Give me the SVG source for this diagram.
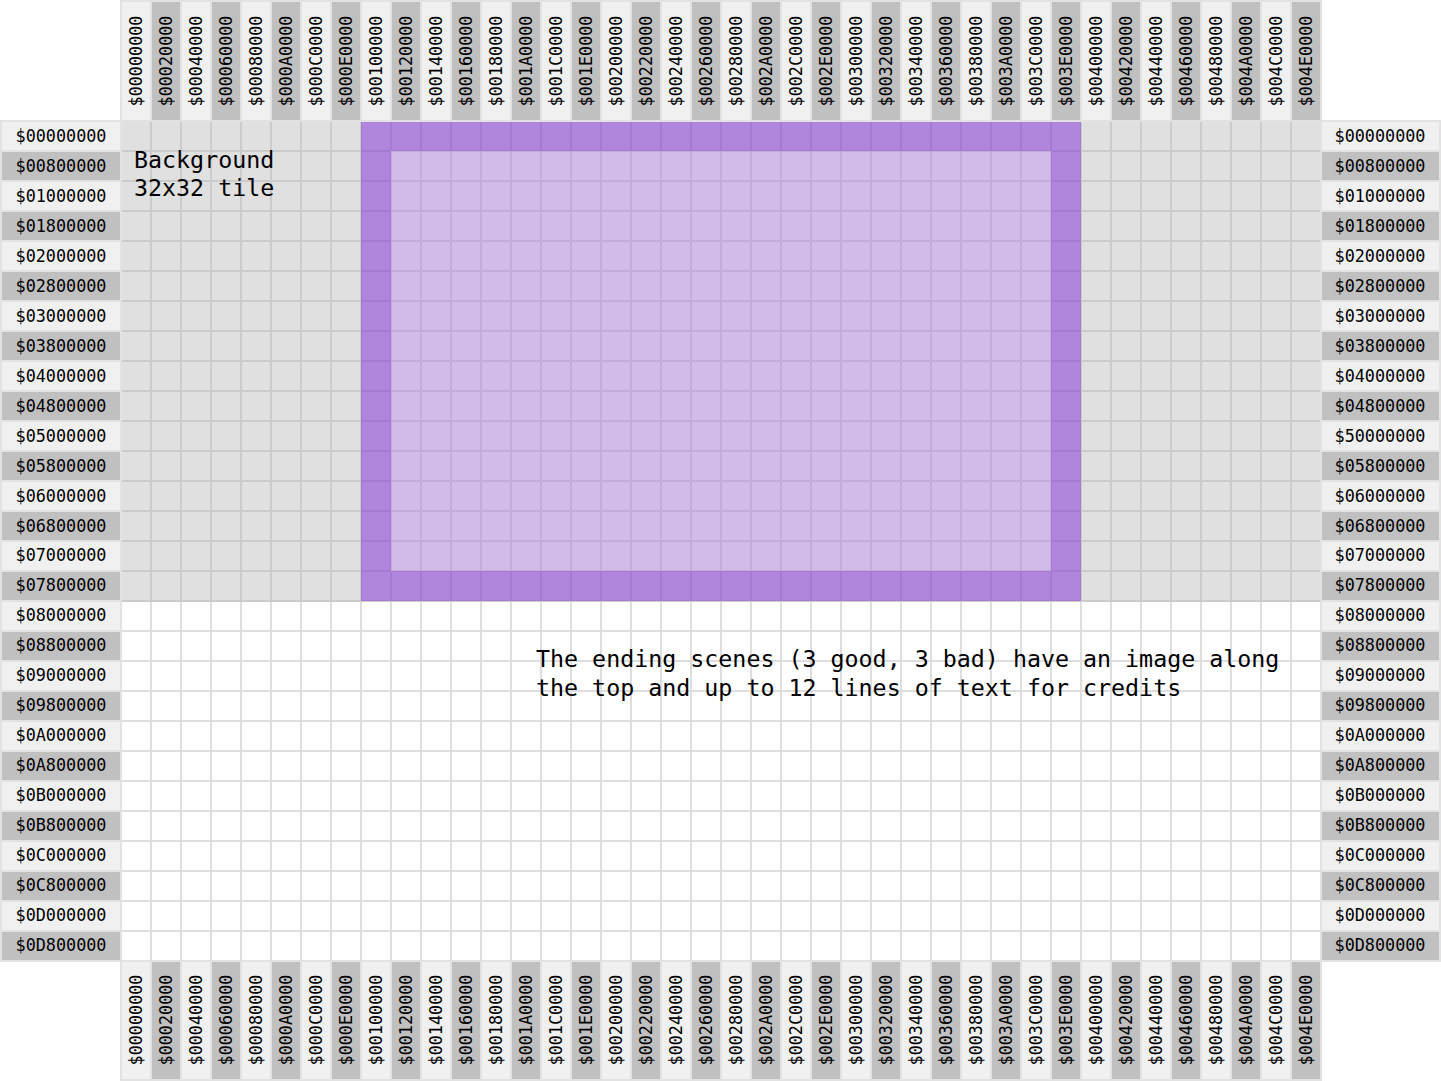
<svg xmlns="http://www.w3.org/2000/svg" width="1441" height="1081" viewBox="0 0 1441 1081">
<style>
.lbl{font-family:"DejaVu Sans Mono","Liberation Mono",monospace;font-size:16.8px;fill:#000}
.mid{text-anchor:middle}
.big{font-family:"DejaVu Sans Mono","Liberation Mono",monospace;font-size:23.3px;fill:#000}
.hl{fill:#f0f0f0;stroke:#e2e2e2;stroke-width:2}
.hd{fill:#c0c0c0;stroke:#e2e2e2;stroke-width:2}
</style>
<rect width="1441" height="1081" fill="#fff"/>
<g id="grid">
<rect x="121" y="121" width="1200" height="480" fill="#e0e0e0"/>
<rect x="121" y="601" width="1200" height="360" fill="#fff"/>
<path d="M121 601V961M151 601V961M181 601V961M211 601V961M241 601V961M271 601V961M301 601V961M331 601V961M361 601V961M391 601V961M421 601V961M451 601V961M481 601V961M511 601V961M541 601V961M571 601V961M601 601V961M631 601V961M661 601V961M691 601V961M721 601V961M751 601V961M781 601V961M811 601V961M841 601V961M871 601V961M901 601V961M931 601V961M961 601V961M991 601V961M1021 601V961M1051 601V961M1081 601V961M1111 601V961M1141 601V961M1171 601V961M1201 601V961M1231 601V961M1261 601V961M1291 601V961M1321 601V961M121 631H1321M121 661H1321M121 691H1321M121 721H1321M121 751H1321M121 781H1321M121 811H1321M121 841H1321M121 871H1321M121 901H1321M121 931H1321M121 961H1321" stroke="#dedede" stroke-width="2" fill="none"/>
<path d="M121 121V601M151 121V601M181 121V601M211 121V601M241 121V601M271 121V601M301 121V601M331 121V601M361 121V601M391 121V601M421 121V601M451 121V601M481 121V601M511 121V601M541 121V601M571 121V601M601 121V601M631 121V601M661 121V601M691 121V601M721 121V601M751 121V601M781 121V601M811 121V601M841 121V601M871 121V601M901 121V601M931 121V601M961 121V601M991 121V601M1021 121V601M1051 121V601M1081 121V601M1111 121V601M1141 121V601M1171 121V601M1201 121V601M1231 121V601M1261 121V601M1291 121V601M1321 121V601M121 121H1321M121 151H1321M121 181H1321M121 211H1321M121 241H1321M121 271H1321M121 301H1321M121 331H1321M121 361H1321M121 391H1321M121 421H1321M121 451H1321M121 481H1321M121 511H1321M121 541H1321M121 571H1321M121 601H1321" stroke="#cbcbcb" stroke-width="2" fill="none"/>
</g>
<g id="screen">
<path d="M361 121H1081V601H361ZM391 151V571H1051V151Z" fill="rgb(128,42,216)" fill-opacity="0.5" fill-rule="evenodd"/>
<rect x="391" y="151" width="660" height="420" fill="rgb(181,104,255)" fill-opacity="0.3"/>
</g>
<g id="notes">
<text class="big" x="134" y="168">Background</text>
<text class="big" x="134" y="196">32x32 tile</text>
<text class="big" x="536" y="667">The ending scenes (3 good, 3 bad) have an image along</text>
<text class="big" x="536" y="696">the top and up to 12 lines of text for credits</text>
</g>
<g id="top-header">
<rect class="hl" x="121" y="1" width="30" height="120"/><rect class="hd" x="151" y="1" width="30" height="120"/><rect class="hl" x="181" y="1" width="30" height="120"/><rect class="hd" x="211" y="1" width="30" height="120"/><rect class="hl" x="241" y="1" width="30" height="120"/><rect class="hd" x="271" y="1" width="30" height="120"/><rect class="hl" x="301" y="1" width="30" height="120"/><rect class="hd" x="331" y="1" width="30" height="120"/><rect class="hl" x="361" y="1" width="30" height="120"/><rect class="hd" x="391" y="1" width="30" height="120"/><rect class="hl" x="421" y="1" width="30" height="120"/><rect class="hd" x="451" y="1" width="30" height="120"/><rect class="hl" x="481" y="1" width="30" height="120"/><rect class="hd" x="511" y="1" width="30" height="120"/><rect class="hl" x="541" y="1" width="30" height="120"/><rect class="hd" x="571" y="1" width="30" height="120"/><rect class="hl" x="601" y="1" width="30" height="120"/><rect class="hd" x="631" y="1" width="30" height="120"/><rect class="hl" x="661" y="1" width="30" height="120"/><rect class="hd" x="691" y="1" width="30" height="120"/><rect class="hl" x="721" y="1" width="30" height="120"/><rect class="hd" x="751" y="1" width="30" height="120"/><rect class="hl" x="781" y="1" width="30" height="120"/><rect class="hd" x="811" y="1" width="30" height="120"/><rect class="hl" x="841" y="1" width="30" height="120"/><rect class="hd" x="871" y="1" width="30" height="120"/><rect class="hl" x="901" y="1" width="30" height="120"/><rect class="hd" x="931" y="1" width="30" height="120"/><rect class="hl" x="961" y="1" width="30" height="120"/><rect class="hd" x="991" y="1" width="30" height="120"/><rect class="hl" x="1021" y="1" width="30" height="120"/><rect class="hd" x="1051" y="1" width="30" height="120"/><rect class="hl" x="1081" y="1" width="30" height="120"/><rect class="hd" x="1111" y="1" width="30" height="120"/><rect class="hl" x="1141" y="1" width="30" height="120"/><rect class="hd" x="1171" y="1" width="30" height="120"/><rect class="hl" x="1201" y="1" width="30" height="120"/><rect class="hd" x="1231" y="1" width="30" height="120"/><rect class="hl" x="1261" y="1" width="30" height="120"/><rect class="hd" x="1291" y="1" width="30" height="120"/>
<g class="lbl mid">
<text transform="translate(142,61) rotate(-90)">$00000000</text>
<text transform="translate(172,61) rotate(-90)">$00020000</text>
<text transform="translate(202,61) rotate(-90)">$00040000</text>
<text transform="translate(232,61) rotate(-90)">$00060000</text>
<text transform="translate(262,61) rotate(-90)">$00080000</text>
<text transform="translate(292,61) rotate(-90)">$000A0000</text>
<text transform="translate(322,61) rotate(-90)">$000C0000</text>
<text transform="translate(352,61) rotate(-90)">$000E0000</text>
<text transform="translate(382,61) rotate(-90)">$00100000</text>
<text transform="translate(412,61) rotate(-90)">$00120000</text>
<text transform="translate(442,61) rotate(-90)">$00140000</text>
<text transform="translate(472,61) rotate(-90)">$00160000</text>
<text transform="translate(502,61) rotate(-90)">$00180000</text>
<text transform="translate(532,61) rotate(-90)">$001A0000</text>
<text transform="translate(562,61) rotate(-90)">$001C0000</text>
<text transform="translate(592,61) rotate(-90)">$001E0000</text>
<text transform="translate(622,61) rotate(-90)">$00200000</text>
<text transform="translate(652,61) rotate(-90)">$00220000</text>
<text transform="translate(682,61) rotate(-90)">$00240000</text>
<text transform="translate(712,61) rotate(-90)">$00260000</text>
<text transform="translate(742,61) rotate(-90)">$00280000</text>
<text transform="translate(772,61) rotate(-90)">$002A0000</text>
<text transform="translate(802,61) rotate(-90)">$002C0000</text>
<text transform="translate(832,61) rotate(-90)">$002E0000</text>
<text transform="translate(862,61) rotate(-90)">$00300000</text>
<text transform="translate(892,61) rotate(-90)">$00320000</text>
<text transform="translate(922,61) rotate(-90)">$00340000</text>
<text transform="translate(952,61) rotate(-90)">$00360000</text>
<text transform="translate(982,61) rotate(-90)">$00380000</text>
<text transform="translate(1012,61) rotate(-90)">$003A0000</text>
<text transform="translate(1042,61) rotate(-90)">$003C0000</text>
<text transform="translate(1072,61) rotate(-90)">$003E0000</text>
<text transform="translate(1102,61) rotate(-90)">$00400000</text>
<text transform="translate(1132,61) rotate(-90)">$00420000</text>
<text transform="translate(1162,61) rotate(-90)">$00440000</text>
<text transform="translate(1192,61) rotate(-90)">$00460000</text>
<text transform="translate(1222,61) rotate(-90)">$00480000</text>
<text transform="translate(1252,61) rotate(-90)">$004A0000</text>
<text transform="translate(1282,61) rotate(-90)">$004C0000</text>
<text transform="translate(1312,61) rotate(-90)">$004E0000</text>
</g>
</g>
<g id="bottom-header">
<rect class="hl" x="121" y="961" width="30" height="119"/><rect class="hd" x="151" y="961" width="30" height="119"/><rect class="hl" x="181" y="961" width="30" height="119"/><rect class="hd" x="211" y="961" width="30" height="119"/><rect class="hl" x="241" y="961" width="30" height="119"/><rect class="hd" x="271" y="961" width="30" height="119"/><rect class="hl" x="301" y="961" width="30" height="119"/><rect class="hd" x="331" y="961" width="30" height="119"/><rect class="hl" x="361" y="961" width="30" height="119"/><rect class="hd" x="391" y="961" width="30" height="119"/><rect class="hl" x="421" y="961" width="30" height="119"/><rect class="hd" x="451" y="961" width="30" height="119"/><rect class="hl" x="481" y="961" width="30" height="119"/><rect class="hd" x="511" y="961" width="30" height="119"/><rect class="hl" x="541" y="961" width="30" height="119"/><rect class="hd" x="571" y="961" width="30" height="119"/><rect class="hl" x="601" y="961" width="30" height="119"/><rect class="hd" x="631" y="961" width="30" height="119"/><rect class="hl" x="661" y="961" width="30" height="119"/><rect class="hd" x="691" y="961" width="30" height="119"/><rect class="hl" x="721" y="961" width="30" height="119"/><rect class="hd" x="751" y="961" width="30" height="119"/><rect class="hl" x="781" y="961" width="30" height="119"/><rect class="hd" x="811" y="961" width="30" height="119"/><rect class="hl" x="841" y="961" width="30" height="119"/><rect class="hd" x="871" y="961" width="30" height="119"/><rect class="hl" x="901" y="961" width="30" height="119"/><rect class="hd" x="931" y="961" width="30" height="119"/><rect class="hl" x="961" y="961" width="30" height="119"/><rect class="hd" x="991" y="961" width="30" height="119"/><rect class="hl" x="1021" y="961" width="30" height="119"/><rect class="hd" x="1051" y="961" width="30" height="119"/><rect class="hl" x="1081" y="961" width="30" height="119"/><rect class="hd" x="1111" y="961" width="30" height="119"/><rect class="hl" x="1141" y="961" width="30" height="119"/><rect class="hd" x="1171" y="961" width="30" height="119"/><rect class="hl" x="1201" y="961" width="30" height="119"/><rect class="hd" x="1231" y="961" width="30" height="119"/><rect class="hl" x="1261" y="961" width="30" height="119"/><rect class="hd" x="1291" y="961" width="30" height="119"/>
<g class="lbl mid">
<text transform="translate(142,1020) rotate(-90)">$00000000</text>
<text transform="translate(172,1020) rotate(-90)">$00020000</text>
<text transform="translate(202,1020) rotate(-90)">$00040000</text>
<text transform="translate(232,1020) rotate(-90)">$00060000</text>
<text transform="translate(262,1020) rotate(-90)">$00080000</text>
<text transform="translate(292,1020) rotate(-90)">$000A0000</text>
<text transform="translate(322,1020) rotate(-90)">$000C0000</text>
<text transform="translate(352,1020) rotate(-90)">$000E0000</text>
<text transform="translate(382,1020) rotate(-90)">$00100000</text>
<text transform="translate(412,1020) rotate(-90)">$00120000</text>
<text transform="translate(442,1020) rotate(-90)">$00140000</text>
<text transform="translate(472,1020) rotate(-90)">$00160000</text>
<text transform="translate(502,1020) rotate(-90)">$00180000</text>
<text transform="translate(532,1020) rotate(-90)">$001A0000</text>
<text transform="translate(562,1020) rotate(-90)">$001C0000</text>
<text transform="translate(592,1020) rotate(-90)">$001E0000</text>
<text transform="translate(622,1020) rotate(-90)">$00200000</text>
<text transform="translate(652,1020) rotate(-90)">$00220000</text>
<text transform="translate(682,1020) rotate(-90)">$00240000</text>
<text transform="translate(712,1020) rotate(-90)">$00260000</text>
<text transform="translate(742,1020) rotate(-90)">$00280000</text>
<text transform="translate(772,1020) rotate(-90)">$002A0000</text>
<text transform="translate(802,1020) rotate(-90)">$002C0000</text>
<text transform="translate(832,1020) rotate(-90)">$002E0000</text>
<text transform="translate(862,1020) rotate(-90)">$00300000</text>
<text transform="translate(892,1020) rotate(-90)">$00320000</text>
<text transform="translate(922,1020) rotate(-90)">$00340000</text>
<text transform="translate(952,1020) rotate(-90)">$00360000</text>
<text transform="translate(982,1020) rotate(-90)">$00380000</text>
<text transform="translate(1012,1020) rotate(-90)">$003A0000</text>
<text transform="translate(1042,1020) rotate(-90)">$003C0000</text>
<text transform="translate(1072,1020) rotate(-90)">$003E0000</text>
<text transform="translate(1102,1020) rotate(-90)">$00400000</text>
<text transform="translate(1132,1020) rotate(-90)">$00420000</text>
<text transform="translate(1162,1020) rotate(-90)">$00440000</text>
<text transform="translate(1192,1020) rotate(-90)">$00460000</text>
<text transform="translate(1222,1020) rotate(-90)">$00480000</text>
<text transform="translate(1252,1020) rotate(-90)">$004A0000</text>
<text transform="translate(1282,1020) rotate(-90)">$004C0000</text>
<text transform="translate(1312,1020) rotate(-90)">$004E0000</text>
</g>
</g>
<g id="left-header">
<rect class="hl" x="1" y="121" width="120" height="30"/><rect class="hd" x="1" y="151" width="120" height="30"/><rect class="hl" x="1" y="181" width="120" height="30"/><rect class="hd" x="1" y="211" width="120" height="30"/><rect class="hl" x="1" y="241" width="120" height="30"/><rect class="hd" x="1" y="271" width="120" height="30"/><rect class="hl" x="1" y="301" width="120" height="30"/><rect class="hd" x="1" y="331" width="120" height="30"/><rect class="hl" x="1" y="361" width="120" height="30"/><rect class="hd" x="1" y="391" width="120" height="30"/><rect class="hl" x="1" y="421" width="120" height="30"/><rect class="hd" x="1" y="451" width="120" height="30"/><rect class="hl" x="1" y="481" width="120" height="30"/><rect class="hd" x="1" y="511" width="120" height="30"/><rect class="hl" x="1" y="541" width="120" height="30"/><rect class="hd" x="1" y="571" width="120" height="30"/><rect class="hl" x="1" y="601" width="120" height="30"/><rect class="hd" x="1" y="631" width="120" height="30"/><rect class="hl" x="1" y="661" width="120" height="30"/><rect class="hd" x="1" y="691" width="120" height="30"/><rect class="hl" x="1" y="721" width="120" height="30"/><rect class="hd" x="1" y="751" width="120" height="30"/><rect class="hl" x="1" y="781" width="120" height="30"/><rect class="hd" x="1" y="811" width="120" height="30"/><rect class="hl" x="1" y="841" width="120" height="30"/><rect class="hd" x="1" y="871" width="120" height="30"/><rect class="hl" x="1" y="901" width="120" height="30"/><rect class="hd" x="1" y="931" width="120" height="30"/>
<g class="lbl mid">
<text x="61" y="142">$00000000</text>
<text x="61" y="172">$00800000</text>
<text x="61" y="202">$01000000</text>
<text x="61" y="232">$01800000</text>
<text x="61" y="262">$02000000</text>
<text x="61" y="292">$02800000</text>
<text x="61" y="322">$03000000</text>
<text x="61" y="352">$03800000</text>
<text x="61" y="382">$04000000</text>
<text x="61" y="412">$04800000</text>
<text x="61" y="442">$05000000</text>
<text x="61" y="472">$05800000</text>
<text x="61" y="502">$06000000</text>
<text x="61" y="532">$06800000</text>
<text x="61" y="561">$07000000</text>
<text x="61" y="591">$07800000</text>
<text x="61" y="621">$08000000</text>
<text x="61" y="651">$08800000</text>
<text x="61" y="681">$09000000</text>
<text x="61" y="711">$09800000</text>
<text x="61" y="741">$0A000000</text>
<text x="61" y="771">$0A800000</text>
<text x="61" y="801">$0B000000</text>
<text x="61" y="831">$0B800000</text>
<text x="61" y="861">$0C000000</text>
<text x="61" y="891">$0C800000</text>
<text x="61" y="921">$0D000000</text>
<text x="61" y="951">$0D800000</text>
</g>
</g>
<g id="right-header">
<rect class="hl" x="1321" y="121" width="119" height="30"/><rect class="hd" x="1321" y="151" width="119" height="30"/><rect class="hl" x="1321" y="181" width="119" height="30"/><rect class="hd" x="1321" y="211" width="119" height="30"/><rect class="hl" x="1321" y="241" width="119" height="30"/><rect class="hd" x="1321" y="271" width="119" height="30"/><rect class="hl" x="1321" y="301" width="119" height="30"/><rect class="hd" x="1321" y="331" width="119" height="30"/><rect class="hl" x="1321" y="361" width="119" height="30"/><rect class="hd" x="1321" y="391" width="119" height="30"/><rect class="hl" x="1321" y="421" width="119" height="30"/><rect class="hd" x="1321" y="451" width="119" height="30"/><rect class="hl" x="1321" y="481" width="119" height="30"/><rect class="hd" x="1321" y="511" width="119" height="30"/><rect class="hl" x="1321" y="541" width="119" height="30"/><rect class="hd" x="1321" y="571" width="119" height="30"/><rect class="hl" x="1321" y="601" width="119" height="30"/><rect class="hd" x="1321" y="631" width="119" height="30"/><rect class="hl" x="1321" y="661" width="119" height="30"/><rect class="hd" x="1321" y="691" width="119" height="30"/><rect class="hl" x="1321" y="721" width="119" height="30"/><rect class="hd" x="1321" y="751" width="119" height="30"/><rect class="hl" x="1321" y="781" width="119" height="30"/><rect class="hd" x="1321" y="811" width="119" height="30"/><rect class="hl" x="1321" y="841" width="119" height="30"/><rect class="hd" x="1321" y="871" width="119" height="30"/><rect class="hl" x="1321" y="901" width="119" height="30"/><rect class="hd" x="1321" y="931" width="119" height="30"/>
<g class="lbl mid">
<text x="1380" y="142">$00000000</text>
<text x="1380" y="172">$00800000</text>
<text x="1380" y="202">$01000000</text>
<text x="1380" y="232">$01800000</text>
<text x="1380" y="262">$02000000</text>
<text x="1380" y="292">$02800000</text>
<text x="1380" y="322">$03000000</text>
<text x="1380" y="352">$03800000</text>
<text x="1380" y="382">$04000000</text>
<text x="1380" y="412">$04800000</text>
<text x="1380" y="442">$50000000</text>
<text x="1380" y="472">$05800000</text>
<text x="1380" y="502">$06000000</text>
<text x="1380" y="532">$06800000</text>
<text x="1380" y="561">$07000000</text>
<text x="1380" y="591">$07800000</text>
<text x="1380" y="621">$08000000</text>
<text x="1380" y="651">$08800000</text>
<text x="1380" y="681">$09000000</text>
<text x="1380" y="711">$09800000</text>
<text x="1380" y="741">$0A000000</text>
<text x="1380" y="771">$0A800000</text>
<text x="1380" y="801">$0B000000</text>
<text x="1380" y="831">$0B800000</text>
<text x="1380" y="861">$0C000000</text>
<text x="1380" y="891">$0C800000</text>
<text x="1380" y="921">$0D000000</text>
<text x="1380" y="951">$0D800000</text>
</g>
</g>
</svg>
